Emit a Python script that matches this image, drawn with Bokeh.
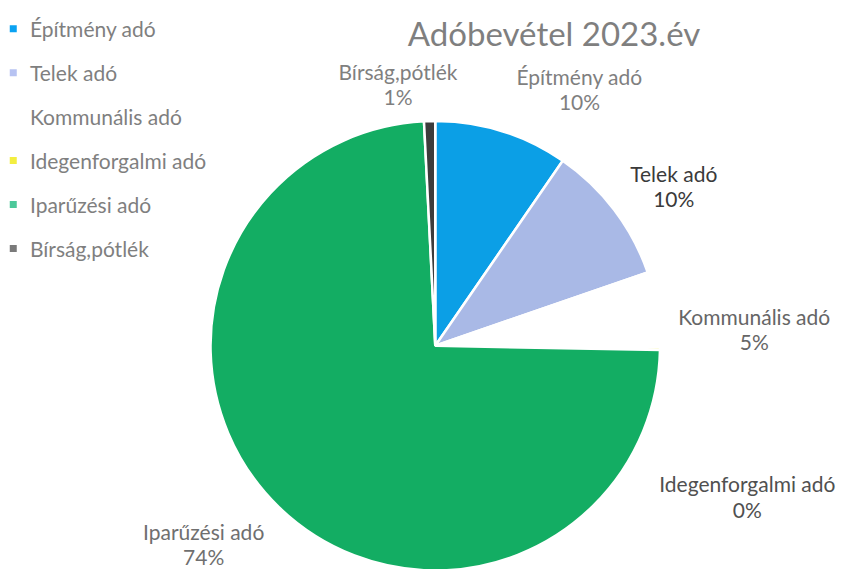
import numpy as np
from bokeh.plotting import figure
from bokeh.models import Range1d
from bokeh.core.properties import value
from bokeh.embed import file_html
from bokeh.resources import INLINE

# ---- data ----
categories = ["Építmény adó", "Telek adó", "Kommunális adó",
              "Idegenforgalmi adó", "Iparűzési adó", "Bírság,pótlék"]
values = [9.6, 10.1, 5.4, 0.2, 73.9, 0.8]
title_text = "Adóbevétel 2023.év"

# ---- styles ----
slice_colors = ["#0b9fe6", "#a9b9e6", "#ffffff", "#f2ee30", "#13ad63", "#3c3c3c"]
legend_colors = ["#0aa2f2", "#b7c3f2", "#ffffff", "#f3ee40", "#4cc89a", "#7a7a7a"]
label_colors = ["#7f7f7f", "#3a3a3a", "#666666", "#505050", "#6f6f6f", "#7f7f7f"]
FONT = "Lato"
FS = "21px"

W, H = 845, 569          # figure size in pixels
RW, RH = 861, 585        # layout units (reference frame)


def X(xi):
    return xi


def Y(yi):
    return RH - yi


p = figure(width=W, height=H, output_backend="svg", toolbar_location=None,
           x_axis_type=None, y_axis_type=None, min_border=0,
           x_range=Range1d(0, RW), y_range=Range1d(0, RH))
p.outline_line_color = None
p.grid.visible = False

# pie geometry
cx, cy, R = X(443), Y(355), 229
vals = np.array(values, dtype=float)
frac = vals / vals.sum()
cum = np.concatenate([[0], np.cumsum(frac)])
start = np.pi / 2 - 2 * np.pi * cum[:-1]
end = np.pi / 2 - 2 * np.pi * cum[1:]

p.wedge(x=cx, y=cy, radius=R, start_angle=start, end_angle=end,
        direction="clock", fill_color=slice_colors,
        line_color="white", line_width=2.5)

# data labels (offsets of name line relative to pie centre, layout units)
label_offsets = [(147, -277), (243, -177), (325, -30),
                 (318, 142), (-236, 191), (-38, -282)]
pct = ["%d%%" % round(f * 100) for f in frac]
for i, (dx, dy) in enumerate(label_offsets):
    xi, yi = 443 + dx, 355 + dy
    p.text(x=[X(xi)], y=[Y(yi)], text=[categories[i]], text_align="center",
           text_baseline="middle", text_font=value(FONT), text_font_size=FS,
           text_color=label_colors[i])
    p.text(x=[X(xi)], y=[Y(yi + 26)], text=[pct[i]], text_align="center",
           text_baseline="middle", text_font=value(FONT), text_font_size=FS,
           text_color=label_colors[i])

# title
p.text(x=[X(564)], y=[Y(33)], text=[title_text], text_align="center",
       text_baseline="middle", text_font=value(FONT), text_font_size="33px",
       text_color="#7f7f7f")

# legend
rows = [29 + 45.2 * i for i in range(len(categories))]
p.scatter(x=[X(13)] * len(categories), y=[Y(r) for r in rows], marker="square",
          size=7, fill_color=legend_colors, line_color=None)
p.text(x=[X(30)] * len(categories), y=[Y(r) for r in rows], text=categories,
       text_align="left", text_baseline="middle", text_font=value(FONT),
       text_font_size=FS, text_color="#7f7f7f")

open("out.html", "w").write(file_html(p, INLINE))
